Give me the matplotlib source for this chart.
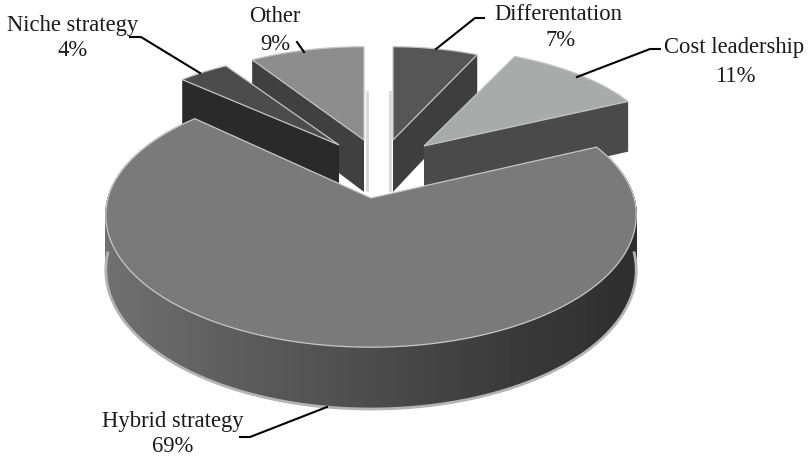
import numpy as np
import matplotlib
matplotlib.use('Agg')
import matplotlib.pyplot as plt
from matplotlib.colors import LinearSegmentedColormap

categories = ['Differentation', 'Cost leadership', 'Hybrid strategy', 'Niche strategy', 'Other']
shares = [7, 11, 69, 4, 9]
pct_labels = ['7%', '11%', '69%', '4%', '9%']

plt.rcParams['font.family'] = ['Liberation Serif', 'DejaVu Serif']

# pie geometry, in picture pixels
RX, RY, PERSP, DEPTH = 263, 130, 0.129, 53
apex = {'Differentation': (393, 140), 'Cost leadership': (424, 146), 'Hybrid strategy': (371, 198),
        'Niche strategy': (339, 145), 'Other': (364, 140)}
radius_x = {'Differentation': 0.84, 'Cost leadership': 0.905, 'Hybrid strategy': 1.0,
            'Niche strategy': 0.89, 'Other': 0.88}
radius_y = {'Differentation': 0.81, 'Cost leadership': 0.85, 'Hybrid strategy': 0.97,
            'Niche strategy': 0.8, 'Other': 0.81}
top_col = {'Differentation': '#565656', 'Cost leadership': '#a9abab', 'Hybrid strategy': '#7a7a7a',
           'Niche strategy': '#4c4c4c', 'Other': '#8d8d8d'}
side_col = {'Differentation': '#3e3e3e', 'Cost leadership': '#4a4a4a', 'Niche strategy': '#2a2a2a',
            'Other': '#404040'}
# label centre lines and leader lines
label_pos = {'Differentation': (558, 14, 561, 41), 'Cost leadership': (734, 48, 735, 76),
             'Hybrid strategy': (173, 421, 173, 447), 'Niche strategy': (73, 25, 73, 50),
             'Other': (275, 17, 275, 44)}
leaders = {'Differentation': [(436, 49), (475, 18), (484, 18)], 'Cost leadership': [(577, 77), (650, 49), (660, 49)],
           'Hybrid strategy': [(327, 407), (250, 437), (240, 437)], 'Niche strategy': [(200, 73), (141, 37), (130, 37)],
           'Other': [(304, 52), (297, 42)]}

# angles run clockwise from 12 o'clock
ends = 90 - np.cumsum(shares) * 3.6
starts = ends + np.array(shares) * 3.6
angles = {c: (e, s) for c, s, e in zip(categories, starts, ends)}

side_cmap = LinearSegmentedColormap.from_list('side', ['#707070', '#5c5c5c', '#4c4c4c', '#3a3a3a', '#2e2e2e'])


def rim(name, deg):
    a = np.radians(deg)
    d = 1 + PERSP * np.sin(a)
    x0, y0 = apex[name]
    return x0 + radius_x[name] * RX * np.cos(a) / d, y0 - radius_y[name] * RY * np.sin(a) / d, DEPTH / d


def draw_slice(ax, name, cut_deg):
    lo, hi = angles[name]
    t = np.linspace(lo, hi, 40)
    xs, ys, ds = rim(name, t)
    x0, y0 = apex[name]
    # flat cut face, then the top
    x1, y1, d1 = rim(name, cut_deg)
    ax.fill([x0, x1, x1, x0], [y0, y1, y1 + d1, y0 + DEPTH * 0.98], color=side_col[name], lw=0)
    ax.fill(np.r_[x0, xs], np.r_[y0, ys], facecolor=top_col[name], edgecolor='#c4c4c4', lw=0.9)


fig = plt.figure(figsize=(8.08, 4.59), dpi=100)
ax = fig.add_axes([0, 0, 1, 1])
ax.set_xlim(0, 808)
ax.set_ylim(459, 0)
ax.axis('off')

# thin lit strips next to the gap
ax.plot([367, 367], [92, 190], color='#d8d8d8', lw=2)
ax.plot([390, 390], [92, 190], color='#d8d8d8', lw=2)

draw_slice(ax, 'Other', angles['Other'][1])
draw_slice(ax, 'Niche strategy', angles['Niche strategy'][1])
draw_slice(ax, 'Differentation', angles['Differentation'][0])
draw_slice(ax, 'Cost leadership', angles['Cost leadership'][0])

# big slice: outer wall in shaded segments, then the top
name = 'Hybrid strategy'
lo, hi = angles[name]
t = np.linspace(lo, hi, 400)
xs, ys, ds = rim(name, t)
# the near rim needs the full 149 px drop, the far part sits lower
ys = ys + np.where(np.sin(np.radians(t)) < 0, -np.sin(np.radians(t)) * 4.4, 0)
front = (t < 0) & (t > -180)
ax.plot(xs[front], (ys + ds + 1)[front], color='#b4b4b4', lw=2)
for i in range(len(t) - 1):
    shade = side_cmap(np.clip((xs[i] - 107) / 530, 0, 1))
    ax.fill([xs[i], xs[i + 1], xs[i + 1], xs[i]],
            [ys[i], ys[i + 1], ys[i + 1] + ds[i + 1], ys[i] + ds[i]],
            color=shade, lw=0.8)
x0, y0 = apex[name]
ax.fill(np.r_[x0, xs], np.r_[y0, ys], facecolor=top_col[name], edgecolor='#c8c8c8', lw=0.9)

for c, p in zip(categories, pct_labels):
    x1, y1, x2, y2 = label_pos[c]
    ax.text(x1, y1, c, ha='center', va='center', fontsize=16.3, color='#1a1a1a')
    ax.text(x2, y2, p, ha='center', va='center', fontsize=16.3, color='#1a1a1a')
    pts = leaders[c]
    ax.plot([q[0] for q in pts], [q[1] for q in pts], color='black', lw=1.5)

fig.savefig('out.png', dpi=100)
